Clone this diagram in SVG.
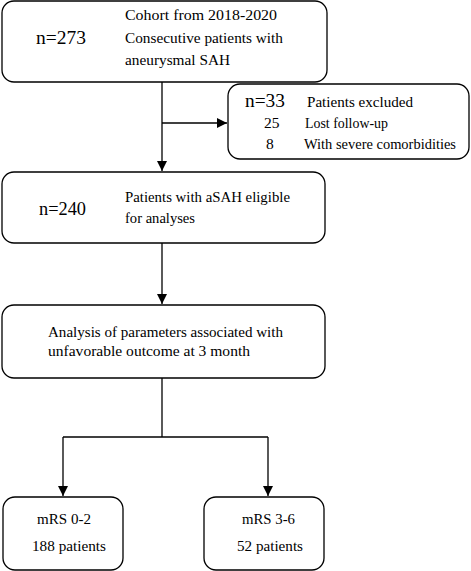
<svg xmlns="http://www.w3.org/2000/svg" width="471" height="571" viewBox="0 0 471 571">
<style>
.box{fill:#fff;stroke:#000;stroke-width:1.3}
.t{font-family:"Liberation Serif","Times New Roman",serif;font-size:15.5px;fill:#000}
.n{font-family:"Liberation Serif","Times New Roman",serif;font-size:18px;fill:#000}
.c{fill:none;stroke:#000;stroke-width:1.3}
</style>
<defs>
<marker id="ah" viewBox="0 0 10 10" refX="10" refY="5" markerWidth="10" markerHeight="10" markerUnits="userSpaceOnUse" orient="auto">
<path d="M0,0 L10,5 L0,10 z" fill="#000"/>
</marker>
</defs>
<rect width="471" height="571" fill="#fff"/>
<g id="connectors">
<line class="c" x1="162" y1="82" x2="162" y2="171" marker-end="url(#ah)"/>
<line class="c" x1="162" y1="123" x2="227" y2="123" marker-end="url(#ah)"/>
<line class="c" x1="162" y1="243" x2="162" y2="304" marker-end="url(#ah)"/>
<polyline class="c" points="162,378 162,437"/>
<polyline class="c" points="63,437 268,437"/>
<line class="c" x1="63" y1="437" x2="63" y2="496" marker-end="url(#ah)"/>
<line class="c" x1="268" y1="437" x2="268" y2="496" marker-end="url(#ah)"/>
</g>
<g id="cohort">
<rect class="box" x="2" y="1" width="325" height="81" rx="12"/>
<text class="t" x="125" y="20" textLength="152" lengthAdjust="spacingAndGlyphs">Cohort from 2018-2020</text>
<text class="n" x="36" y="44" textLength="50" lengthAdjust="spacingAndGlyphs">n=273</text>
<text class="t" x="125" y="43" textLength="158" lengthAdjust="spacingAndGlyphs">Consecutive patients with</text>
<text class="t" x="125" y="65" textLength="105" lengthAdjust="spacingAndGlyphs">aneurysmal SAH</text>
</g>
<g id="excluded">
<rect class="box" x="228" y="84" width="241" height="75" rx="12"/>
<text class="n" x="245" y="107" textLength="40" lengthAdjust="spacingAndGlyphs">n=33</text>
<text class="t" x="307" y="107" textLength="106" lengthAdjust="spacingAndGlyphs">Patients excluded</text>
<text class="t" x="264" y="128">25</text>
<text class="t" x="305" y="128" textLength="83" lengthAdjust="spacingAndGlyphs">Lost follow-up</text>
<text class="t" x="266" y="149">8</text>
<text class="t" x="304" y="149" textLength="152" lengthAdjust="spacingAndGlyphs">With severe comorbidities</text>
</g>
<g id="eligible">
<rect class="box" x="2" y="172" width="323" height="71" rx="12"/>
<text class="n" x="39" y="215" textLength="47" lengthAdjust="spacingAndGlyphs">n=240</text>
<text class="t" x="125" y="202" textLength="165" lengthAdjust="spacingAndGlyphs">Patients with aSAH eligible</text>
<text class="t" x="125" y="223" textLength="70" lengthAdjust="spacingAndGlyphs">for analyses</text>
</g>
<g id="analysis">
<rect class="box" x="2" y="305" width="323" height="73" rx="12"/>
<text class="t" x="48" y="337" textLength="235" lengthAdjust="spacingAndGlyphs">Analysis of parameters associated with</text>
<text class="t" x="48" y="356" textLength="202" lengthAdjust="spacingAndGlyphs">unfavorable outcome at 3 month</text>
</g>
<g id="mrs02">
<rect class="box" x="3" y="497" width="120" height="73" rx="12"/>
<text class="t" x="37" y="524" textLength="54" lengthAdjust="spacingAndGlyphs">mRS 0-2</text>
<text class="t" x="32" y="551" textLength="74" lengthAdjust="spacingAndGlyphs">188 patients</text>
</g>
<g id="mrs36">
<rect class="box" x="204" y="497" width="120" height="73" rx="12"/>
<text class="t" x="242" y="524" textLength="53" lengthAdjust="spacingAndGlyphs">mRS 3-6</text>
<text class="t" x="237" y="551" textLength="66" lengthAdjust="spacingAndGlyphs">52 patients</text>
</g>
</svg>
